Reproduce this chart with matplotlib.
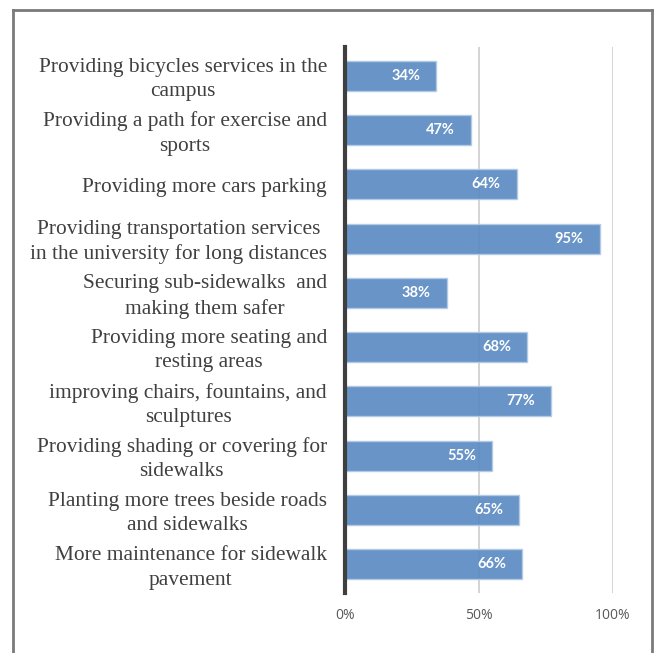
import matplotlib
matplotlib.use("Agg")
import matplotlib.pyplot as plt
from matplotlib.ticker import FuncFormatter
import matplotlib.transforms as mtransforms

# Survey items (top to bottom) and share of respondents agreeing
categories = [
    "Providing bicycles services in the\ncampus",
    "Providing a path for exercise and\nsports",
    "Providing more cars parking",
    "Providing transportation services\nin the university for long distances",
    "Securing sub-sidewalks  and\nmaking them safer",
    "Providing more seating and\nresting areas",
    "improving chairs, fountains, and\nsculptures",
    "Providing shading or covering for\nsidewalks",
    "Planting more trees beside roads\nand sidewalks",
    "More maintenance for sidewalk\npavement",
]
values = [34, 47, 64, 95, 38, 68, 77, 55, 65, 66]
tick_values = [0, 50, 100]

W, H = 657, 653
fig = plt.figure(figsize=(W / 100, H / 100), dpi=100)

# outer frame (open at the bottom)
frame_kw = dict(color="#7a7a7a", lw=2, transform=fig.transFigure, clip_on=False)
x0, x1, yt = 13 / W, 652 / W, 1 - 9.5 / H
fig.add_artist(plt.Line2D([x0, x0], [0, yt], **frame_kw))
fig.add_artist(plt.Line2D([x1, x1], [0, yt], **frame_kw))
fig.add_artist(plt.Line2D([x0, x1], [yt, yt], **frame_kw))

ax_left, ax_right = 345 / W, 613 / W
ax_top, ax_bot = 1 - 47 / H, 1 - 593 / H
ax = fig.add_axes([ax_left, ax_bot, ax_right - ax_left, ax_top - ax_bot])

n = len(categories)
ypos = list(range(n))
ax.set_ylim(n - 1 + 0.53, -0.53)
ax.set_xlim(0, 100)

ax.barh(ypos, values, height=0.55, color="#5b8bc3", alpha=0.92,
        edgecolor="#b3cbe8", linewidth=1.0, zorder=3)

for y, v in zip(ypos, values):
    ax.annotate(f"{v}%", xy=(v, y), xytext=(-11.5, 0), textcoords="offset points",
                ha="right", va="center", color="white", fontsize=10.5,
                fontweight="bold", family="Lato", zorder=4)

# category labels, centred multi-line blocks right-aligned to the axis
trans = mtransforms.blended_transform_factory(ax.transAxes, ax.transData)
for y, c in zip(ypos, categories):
    ax.annotate(c, xy=(0, y), xycoords=trans, xytext=(-13, -2.6),
                textcoords="offset points", ha="right", va="center",
                multialignment="center", fontsize=15.4, family="Liberation Serif",
                color="#404040", linespacing=1.38)

ax.set_yticks([])
ax.set_xticks(tick_values)
ax.xaxis.set_major_formatter(FuncFormatter(lambda v, p: f"{v:.0f}%"))
ax.tick_params(axis="x", length=0, pad=11, labelsize=10, labelcolor="#595959")
for lab in ax.get_xticklabels():
    lab.set_family("Open Sans")

ax.grid(axis="x", color="#d4d4d4", lw=1.4, zorder=0)
ax.set_axisbelow(True)
for s in ["top", "right", "bottom"]:
    ax.spines[s].set_visible(False)
ax.spines["left"].set_color("#3f3f3f")
ax.spines["left"].set_linewidth(3)
ax.spines["left"].set_zorder(5)

fig.savefig("out.png", dpi=100, facecolor="white")
